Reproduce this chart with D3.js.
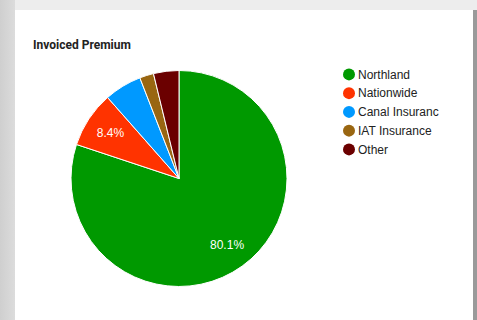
<!DOCTYPE html>
<html>
<head>
<meta charset="utf-8">
<script src="https://cdn.jsdelivr.net/npm/d3@7"></script>
<style>
  body { margin: 0; background: #ececec; }
  svg { display: block; }
</style>
</head>
<body>
<svg id="chart"></svg>
<script>
var width = 477, height = 320;

var categories = ['Northland', 'Nationwide', 'Canal Insuranc', 'IAT Insurance', 'Other'];
var shares = [80.1, 8.4, 5.6, 2.1, 3.8];
var colors = ['#009900', '#ff3300', '#0099ff', '#996611', '#6b0000'];
var title = 'Invoiced Premium';

var svg = d3.select('#chart').attr('width', width).attr('height', height);

// page background + card
var bg = svg.append('defs').append('linearGradient').attr('id', 'leftfade');
bg.append('stop').attr('offset', '0%').attr('stop-color', '#cfcfcf');
bg.append('stop').attr('offset', '100%').attr('stop-color', '#dcdcdc');
svg.append('rect').attr('width', width).attr('height', height).attr('fill', '#ededed');
svg.append('rect').attr('x', 0).attr('y', 0).attr('width', 15).attr('height', height).attr('fill', 'url(#leftfade)');
svg.append('rect').attr('x', 473).attr('y', 10).attr('width', 4).attr('height', height).attr('fill', '#9a9a9a');
svg.append('rect').attr('x', 15).attr('y', 10).attr('width', 458).attr('height', height).attr('fill', '#ffffff');

svg.append('text')
    .attr('x', 33).attr('y', 49)
    .style('font-family', 'Roboto, Arial, sans-serif')
    .style('font-weight', 'bold')
    .style('font-size', '12px')
    .style('fill', '#222')
    .text(title);

var data = categories.map(function (c, i) { return { name: c, value: shares[i], color: colors[i] }; });

var cx = 179, cy = 178.5, r = 108;
var pie = d3.pie().sort(null).value(function (d) { return d.value; });
var arc = d3.arc().innerRadius(0).outerRadius(r);
var labelArc = d3.arc().innerRadius(r * 0.76).outerRadius(r * 0.76);

var g = svg.append('g').attr('transform', 'translate(' + cx + ',' + cy + ')');
var arcs = pie(data);

g.selectAll('path')
    .data(arcs)
    .enter()
    .append('path')
    .attr('d', arc)
    .attr('fill', function (d) { return d.data.color; })
    .attr('stroke', '#ffffff')
    .attr('stroke-width', 1);

g.selectAll('text')
    .data(arcs.filter(function (d) { return d.data.value >= 8; }))
    .enter()
    .append('text')
    .attr('transform', function (d) { return 'translate(' + labelArc.centroid(d) + ')'; })
    .attr('text-anchor', 'middle')
    .attr('dy', '0.35em')
    .style('font-family', 'Arial, "Liberation Sans", sans-serif')
    .style('font-size', '12px')
    .style('fill', '#ffffff')
    .text(function (d) { return d.data.value.toFixed(1) + '%'; });

// legend
var y = d3.scaleBand().domain(categories).range([65, 158.75]);
var legend = svg.append('g').selectAll('g')
    .data(data)
    .enter()
    .append('g')
    .attr('transform', function (d) { return 'translate(349,' + (y(d.name) + y.bandwidth() / 2) + ')'; });

legend.append('circle').attr('r', 6).attr('fill', function (d) { return d.color; });
legend.append('text')
    .attr('x', 9).attr('dy', '0.35em')
    .style('font-family', 'Arial, "Liberation Sans", sans-serif')
    .style('font-size', '12px')
    .style('fill', '#222')
    .text(function (d) { return d.name; });
</script>
</body>
</html>
